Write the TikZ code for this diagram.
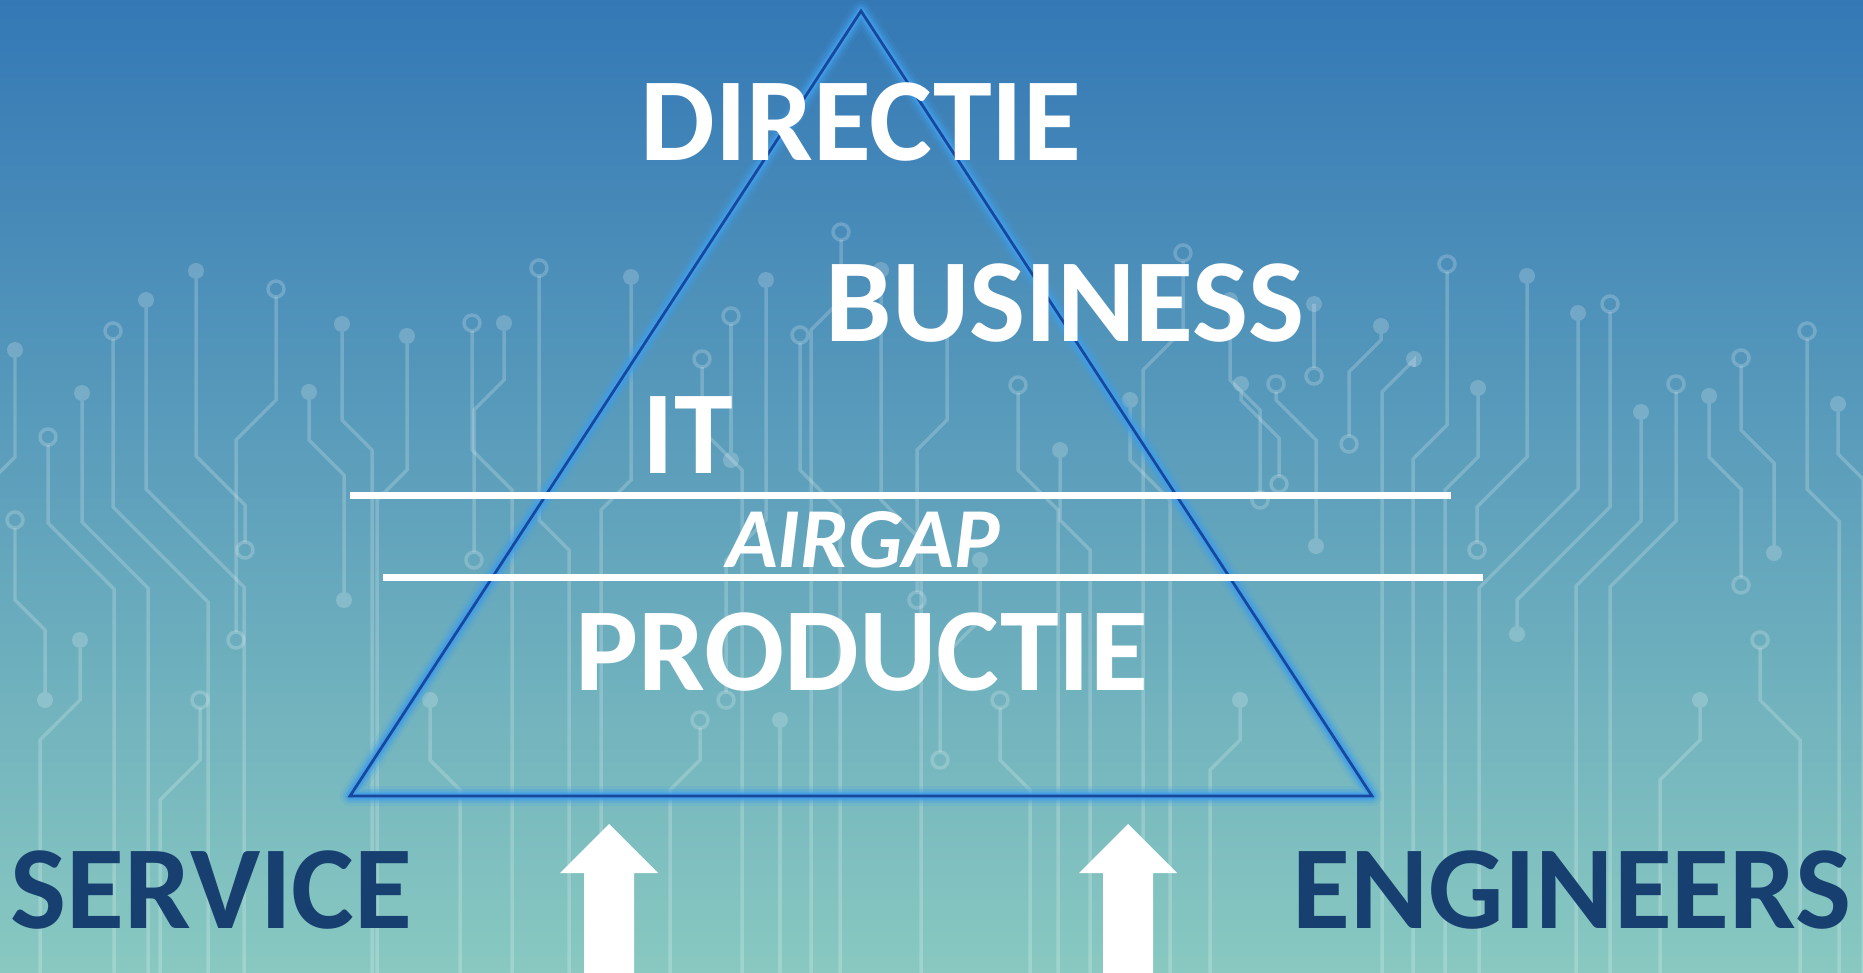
\documentclass[tikz,border=0pt]{standalone}
\usepackage{fontspec}
\setmainfont{Carlito}
\usepackage{tikz}
\definecolor{bgtop}{RGB}{52,120,182}
\definecolor{bgmid}{RGB}{98,162,189}
\definecolor{bgbot}{RGB}{137,201,193}
\definecolor{triblue}{RGB}{24,72,158}
\definecolor{glowblue}{RGB}{64,158,232}
\definecolor{darkblue}{RGB}{23,63,112}

\begin{document}
\begin{tikzpicture}[x=0.02cm, y=-0.02cm,
  trace/.style={draw=white, opacity=0.2, line width=0.07cm},
  dotfull/.style={fill=white, opacity=0.2},
  dotopen/.style={draw=white, opacity=0.2, line width=0.07cm},
  dotnone/.style={},
  bigtext/.style={text=white, inner sep=0pt, font=\bfseries\fontsize{67.5}{70}\selectfont},
  gaptext/.style={text=white, inner sep=0pt, font=\bfseries\itshape\fontsize{48.6}{52}\selectfont},
  sidetext/.style={text=darkblue, inner sep=0pt, font=\bfseries\fontsize{67.5}{70}\selectfont}]
\useasboundingbox (0,0) rectangle (1863,973);
%%%%% Background %%%%%
\shade[top color=bgtop, middle color=bgmid, bottom color=bgbot] (0,0) rectangle (1863,973);
% circuit traces: x / top / bend / shift / end / top dot / end dot
\foreach \xa/\ya/\yb/\dx/\ye/\sa/\sb in {
  15/350/457/-20/985/dotfull/dotnone, 48/437/523/66/985/dotopen/dotnone,
  82/393/522/66/985/dotfull/dotnone, 113/331/507/95/985/dotopen/dotnone,
  146/300/489/98/985/dotfull/dotnone, 196/271/456/49/550/dotfull/dotopen,
  276/289/400/-40/640/dotopen/dotopen, 309/392/440/35/600/dotfull/dotfull,
  342/324/420/30/985/dotfull/dotnone, 407/336/470/-30/985/dotfull/dotnone,
  472/323/450/40/985/dotopen/dotnone, 504/323/380/-30/560/dotfull/dotopen,
  539/268/520/30/985/dotopen/dotnone, 15/520/600/30/700/dotopen/dotfull,
  80/640/700/-40/985/dotfull/dotnone, 631/277/480/-30/985/dotfull/dotnone,
  702/359/430/40/985/dotopen/dotnone, 731/316/360/0/460/dotopen/dotfull,
  766/280/520/-40/700/dotfull/dotopen, 800/335/470/40/985/dotopen/dotnone,
  841/232/300/-30/985/dotopen/dotnone, 881/270/500/40/985/dotfull/dotnone,
  947/329/420/-30/600/dotfull/dotopen, 1018/385/470/40/985/dotopen/dotnone,
  980/560/620/-40/760/dotfull/dotopen, 1060/450/520/30/985/dotfull/dotnone,
  1183/253/330/-40/985/dotopen/dotnone, 1130/400/460/40/985/dotfull/dotnone,
  1230/300/380/30/500/dotfull/dotopen, 1447/264/425/-34/985/dotopen/dotnone,
  1527/276/457/-50/550/dotfull/dotopen, 1578/313/489/-99/985/dotfull/dotnone,
  1610/304/507/-93/634/dotopen/dotfull, 1641/412/521/-65/985/dotfull/dotnone,
  1676/384/521/-66/985/dotopen/dotnone, 1709/396/457/32/585/dotfull/dotopen,
  1741/358/430/33/553/dotopen/dotfull, 1807/331/489/32/985/dotopen/dotnone,
  1838/404/454/25/985/dotfull/dotnone, 1314/304/304/0/376/dotfull/dotopen,
  1381/326/340/-32/444/dotfull/dotopen, 1414/359/360/-32/985/dotfull/dotnone,
  1241/384/400/38/484/dotfull/dotopen, 1276/384/400/40/546/dotopen/dotfull,
  1478/388/457/-33/985/dotfull/dotnone, 1760/640/700/40/985/dotopen/dotnone,
  1700/700/740/-40/985/dotfull/dotnone, 200/700/760/-40/985/dotopen/dotnone,
  430/700/760/30/985/dotfull/dotnone, 700/720/760/-30/985/dotopen/dotnone,
  780/720/800/0/985/dotfull/dotnone, 1000/700/760/30/985/dotopen/dotnone,
  1240/700/740/-30/985/dotfull/dotnone}{
\path[\sa] (\xa,\ya) circle[radius=8];
\draw[trace] (\xa,\ya+8) -- (\xa,\yb) -- ({\xa+\dx},{\yb+abs(\dx)}) -- ({\xa+\dx},\ye-8);
\path[\sb] ({\xa+\dx},\ye) circle[radius=8];
}
%%%%% Pyramid %%%%%
\coordinate (apex) at (861,11);
\coordinate (left) at (350,796);
\coordinate (right) at (1372,796);
\foreach \w/\o in {20/0.15, 14/0.3, 9/0.5, 6/0.7}{
\draw[glowblue, line width=\w*0.02cm, opacity=\o, line join=round] (apex) -- (left) -- (right) -- cycle;
}
\draw[triblue, line width=0.055cm] (apex) -- (left) -- (right) -- cycle;
\draw[white, line width=0.15cm] (350,495.5) -- (1451,495.5);
\draw[white, line width=0.15cm] (383,577.5) -- (1483,577.5);
%%%%% Labels %%%%%
\node[bigtext] (directie) at (861,122.5) {DIRECTIE};
\node[bigtext] (business) at (1065,303.5) {BUSINESS};
\node[bigtext] (it) at (688,435) {IT};
\node[gaptext] (airgap) at (863,540) {AIRGAP};
\node[bigtext] (productie) at (862,652.5) {PRODUCTIE};
\node[sidetext] (service) at (211.5,890.5) {SERVICE};
\node[sidetext] (engineers) at (1572,890.5) {ENGINEERS};
%%%%% Arrows %%%%%
\foreach \c in {609,1128}{
\fill[white] ({\c-25},975) -- ({\c-25},873) -- ({\c-49},873) -- (\c,824) -- ({\c+49},873) -- ({\c+25},873) -- ({\c+25},975) -- cycle;
}
\end{tikzpicture}
\end{document}
